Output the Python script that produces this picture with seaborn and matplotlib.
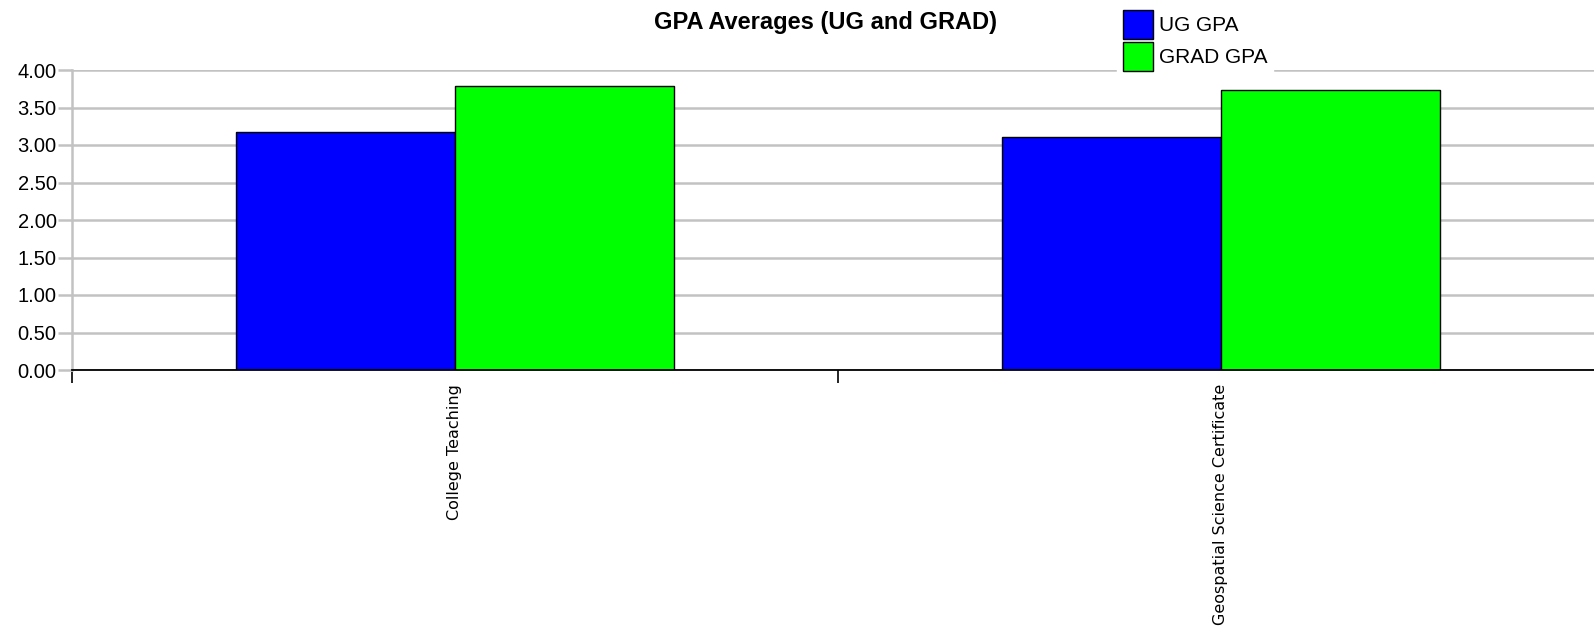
import matplotlib
matplotlib.use("Agg")
import matplotlib.pyplot as plt
import seaborn as sns
import pandas as pd

programs = ["College Teaching", "Geospatial Science Certificate"]
ug_gpa = [3.17, 3.11]
grad_gpa = [3.79, 3.73]
series = ["UG GPA", "GRAD GPA"]
colors = ["#0000ff", "#00ff00"]
y_ticks = [0.0, 0.5, 1.0, 1.5, 2.0, 2.5, 3.0, 3.5, 4.0]

df = pd.DataFrame({
    "Program": programs * 2,
    "Series": [series[0]] * len(programs) + [series[1]] * len(programs),
    "GPA": ug_gpa + grad_gpa,
})

sns.set_style("white")
plt.rcParams["font.family"] = ["Liberation Sans", "DejaVu Sans"]
plt.rcParams["text.color"] = "black"
plt.rcParams["xtick.labelcolor"] = "black"
plt.rcParams["ytick.labelcolor"] = "black"

W, H = 1594, 628
fig = plt.figure(figsize=(W / 100, H / 100), dpi=100)
ax = fig.add_axes([72 / W, (H - 370) / H, (W - 72) / W, 300 / H])

sns.barplot(data=df, x="Program", y="GPA", hue="Series", order=programs,
            hue_order=series, palette=colors, width=0.572,
            edgecolor="black", linewidth=1.0, saturation=1, ax=ax,
            legend=True, zorder=3)

ax.set_yticks(y_ticks)
ax.set_yticklabels([f"{v:.2f}" for v in y_ticks], fontsize=14.5, color="black")
ax.yaxis.grid(True, color="#c2c2c2", linewidth=1.8, zorder=0)
ax.set_axisbelow(True)
ax.tick_params(axis="y", left=True, length=10, width=1.8, color="#c2c2c2", pad=1)

ax.set_xticks(range(len(programs)))
ax.set_xticklabels(programs, rotation=90, fontsize=11.5, family="DejaVu Sans",
                   va="top", ha="center", color="black")
ax.set_xticks([i - 0.5 for i in range(len(programs) + 1)], minor=True)
ax.tick_params(axis="x", which="major", length=0, pad=10)
ax.tick_params(axis="x", which="minor", bottom=True, length=9, width=1.2, color="black")

# category band of ~766 px; the last band runs past the right edge
ax.set_xlim(-0.5, -0.5 + (W - 72) / 766)
ax.set_ylim(0, 4.0)

ax.set_xlabel("")
ax.set_ylabel("")
for s in ("top", "right"):
    ax.spines[s].set_visible(False)
ax.spines["left"].set_color("#c2c2c2")
ax.spines["left"].set_linewidth(1.8)
ax.spines["bottom"].set_color("black")
ax.spines["bottom"].set_linewidth(1.3)
ax.spines["bottom"].set_zorder(4)

fig.text(825 / W, 1 - 23 / H, "GPA Averages (UG and GRAD)", ha="center",
         va="center", fontsize=17, fontweight="bold", color="black")

handles, labels = ax.get_legend_handles_labels()
leg = ax.legend(handles, labels, loc="upper left",
                bbox_to_anchor=(1117 / W, 1 - 4 / H), bbox_transform=fig.transFigure,
                frameon=True, fancybox=False, fontsize=15, handlelength=1.45,
                handleheight=1.75, handletextpad=0.25, labelspacing=0.15,
                borderpad=0.3, borderaxespad=0, labelcolor="black")
leg.get_frame().set_edgecolor("white")
leg.get_frame().set_facecolor("white")
leg.get_frame().set_alpha(1)
leg.set_zorder(10)

fig.savefig("out.png", dpi=100)
